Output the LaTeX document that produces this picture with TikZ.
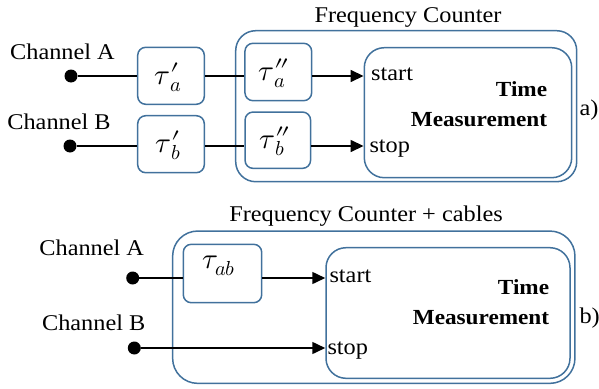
\documentclass[tikz,border=0pt]{standalone}
\usepackage{mathtools}
\usepackage{fontspec}
\usepackage{unicode-math}
\setmainfont[FakeStretch=1.08]{Liberation Serif}
\setmathfont{Latin Modern Math}
\usetikzlibrary{arrows.meta}
\definecolor{bl}{RGB}{65,113,156}
\begin{document}
\begin{tikzpicture}[x=1pt,y=-1pt,
  bx/.style={draw=bl, line width=1.5pt, rounded corners=#1, inner sep=0pt},
  txt/.style={font=\fontsize{22.5}{27}\selectfont, inner sep=0pt},
  btxt/.style={font=\fontsize{21.5}{26}\selectfont\bfseries, inner sep=0pt},
  mth/.style={font=\fontsize{29}{34}\selectfont, inner sep=0pt},
  dot/.style={circle, fill=black, minimum size=13pt, inner sep=0pt},
  ln/.style={line width=1.5pt, black},
  arr/.style={-{Triangle[length=13pt,width=12pt]}}
]
\useasboundingbox (0,0) rectangle (599,388);

% ---------- part a ----------
\node[bx=20pt, minimum width=341pt, minimum height=151pt] (FCa) at (406.2,106.2) {};
\node[bx=20pt, minimum width=207.4pt, minimum height=130pt] (TMa) at (468,112.7) {};
\node[bx=8pt, minimum width=66.6pt, minimum height=57pt] (tapA) at (171,75.8) {};
\node[bx=8pt, minimum width=66.6pt, minimum height=57pt] (tapB) at (171,144.2) {};
\node[bx=8pt, minimum width=66.7pt, minimum height=57.4pt] (tappA) at (278.3,72) {};
\node[bx=8pt, minimum width=65.5pt, minimum height=56.3pt] (tappB) at (277.8,140.2) {};
\node[mth] (tapAl) at (168,77) {$\tau\mathrlap{\prime}_{a}$};
\node[mth] (tapBl) at (168,145) {$\tau\mathrlap{\prime}_{b}$};
\node[mth] (tappAl) at (272,73) {$\tau\mathrlap{\dprime}_{a}$};
\node[mth] (tappBl) at (272,141) {$\tau\mathrlap{\dprime}_{b}$};

\node[dot] (dA) at (71,76) {};
\node[dot] (dB) at (70,146) {};
\node[txt, anchor=base] (chA) at (62.5,59.3) {Channel A};
\node[txt, anchor=base] (chB) at (59,129.3) {Channel B};
\node[txt, anchor=base] (fca) at (408,22.3) {Frequency Counter};
\node[txt, anchor=base west] (starta) at (371,80.7) {start};
\node[txt, anchor=base west] (stopa) at (369.3,152) {stop};
\node[btxt, anchor=base east] (timea) at (547.3,96.7) {Time};
\node[btxt, anchor=base east] (meaa) at (547.3,126) {Measurement};
\node[txt, anchor=base west] (la) at (579.3,115) {a)};

\draw[ln] (dA) -- (dA -| tapA.west);
\draw[ln] (dA -| tapA.east) -- (dA -| tappA.west);
\draw[ln,arr] (dA -| tappA.east) -- (dA -| TMa.west);
\draw[ln] (dB) -- (dB -| tapB.west);
\draw[ln] (dB -| tapB.east) -- (dB -| tappB.west);
\draw[ln,arr] (dB -| tappB.east) -- (dB -| TMa.west);

% ---------- part b ----------
\node[bx=25pt, minimum width=402.3pt, minimum height=152.3pt] (FCb) at (373.8,307.2) {};
\node[bx=20pt, minimum width=244pt, minimum height=130.6pt] (TMb) at (448,313) {};
\node[bx=8pt, minimum width=78.4pt, minimum height=58.4pt] (tab) at (222.5,273.5) {};
\node[mth] (tabl) at (219,266) {$\tau_{ab}$};

\node[dot] (dA2) at (132.7,278) {};
\node[dot] (dB2) at (134.3,348) {};
\node[txt, anchor=base] (chA2) at (91.7,255) {Channel A};
\node[txt, anchor=base] (chB2) at (93.7,330) {Channel B};
\node[txt, anchor=base] (fcb) at (366,221.7) {Frequency Counter + cables};
\node[txt, anchor=base west] (startb) at (329.3,282.3) {start};
\node[txt, anchor=base west] (stopb) at (327.3,354.3) {stop};
\node[btxt, anchor=base east] (timeb) at (549.3,294.3) {Time};
\node[btxt, anchor=base east] (meab) at (549.3,324.3) {Measurement};
\node[txt, anchor=base west] (lb) at (579.3,323.3) {b)};

\draw[ln] (dA2) -- (dA2 -| tab.west);
\draw[ln,arr] (dA2 -| tab.east) -- (dA2 -| TMb.west);
\draw[ln,arr] (dB2) -- (dB2 -| TMb.west);
\end{tikzpicture}
\end{document}
